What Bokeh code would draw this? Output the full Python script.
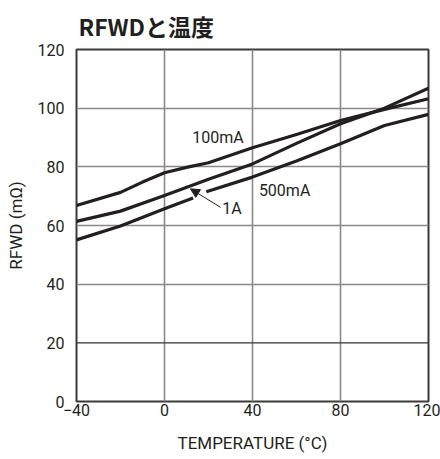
from bokeh.plotting import figure
from bokeh.models import (Range1d, FixedTicker, Label, Arrow, NormalHead, Span)
from bokeh.embed import file_html
from bokeh.resources import INLINE

# ---- data ----
x_ticks = [-40, 0, 40, 80, 120]
x_tick_labels = ["\u221240", "0", "40", "80", "120"]
y_ticks = [0, 20, 40, 60, 80, 100, 120]

temp_100mA = [-40, -20, -10, 0, 10, 20, 40, 60, 80, 100, 120]
r_100mA = [66.8, 71.3, 74.8, 78.0, 79.8, 81.4, 86.5, 91.0, 95.8, 99.6, 103.2]

temp_1A = [-40, -20, 0, 20, 40, 60, 80, 100, 120]
r_1A = [61.4, 64.9, 70.2, 75.8, 81.0, 88.0, 94.7, 100.0, 106.8]

# 500mA curve is broken where the 1A arrow crosses it
temp_500mA = [-40, -20, 0, 13, float("nan"), 19, 40, 60, 80, 100, 120]
r_500mA = [55.1, 59.8, 65.7, 69.4, float("nan"), 71.5, 76.5, 82.0, 87.9, 94.1, 97.9]

curve_labels = ["100mA", "500mA", "1A"]
curve_label_x = [12.6, 42.9, 26.2]
curve_label_y = [90.1, 71.9, 65.7]

arrow_start = (25.5, 66.2)
arrow_end = (11.8, 72.5)

title_text = "RFWDと温度"
ylabel = "RFWD (m\u03a9)"
xlabel = "TEMPERATURE (\u00b0C)"

INK = "#231f20"
FONT = "Roboto"
CJK = "Noto Sans CJK JP"

p = figure(width=440, height=459, output_backend="svg", toolbar_location=None,
           x_range=Range1d(-40, 120), y_range=Range1d(0, 120),
           min_border_left=76, min_border_right=12, min_border_top=49,
           min_border_bottom=58)
p.background_fill_color = "white"
p.border_fill_color = "white"
p.outline_line_color = "#3a3a3a"
p.outline_line_width = 2

# title
p.title.text = title_text
p.title.text_font = CJK
p.title.text_font_size = "23px"
p.title.text_font_style = "bold"
p.title.text_color = INK
p.title.align = "left"
p.title.vertical_align = "top"
p.title.offset = 2
p.title.standoff = 10

# axes
for ax in (p.xaxis[0], p.yaxis[0]):
    ax.axis_line_color = None
    ax.major_tick_line_color = None
    ax.minor_tick_line_color = None
    ax.major_tick_out = 0
    ax.major_tick_in = 0
    ax.minor_tick_out = 0
    ax.major_label_text_font = FONT
    ax.major_label_text_font_size = "16px"
    ax.major_label_text_color = INK
    ax.axis_label_text_font = FONT
    ax.axis_label_text_font_style = "normal"
    ax.axis_label_text_font_size = "17px"
    ax.axis_label_text_color = INK

p.xaxis.ticker = FixedTicker(ticks=x_ticks)
p.xaxis.major_label_overrides = {tk: lb for tk, lb in zip(x_ticks, x_tick_labels)}
p.xaxis.major_label_standoff = 2
p.xaxis.axis_label = xlabel
p.xaxis.axis_label_standoff = 14

p.yaxis.ticker = FixedTicker(ticks=y_ticks)
p.yaxis.major_label_standoff = 12
p.yaxis.axis_label = ylabel
p.yaxis.axis_label_standoff = 9

# grid
p.xgrid.ticker = FixedTicker(ticks=x_ticks)
p.ygrid.ticker = FixedTicker(ticks=[tk for tk in y_ticks if tk != 20])
for g in (p.xgrid[0], p.ygrid[0]):
    g.grid_line_color = "#8a8a8a"
    g.grid_line_width = 1.6
p.add_layout(Span(location=y_ticks[1], dimension="width", line_color="#333333",
                  line_width=1.2, level="underlay"))

# curves
for xs, ys in ((temp_100mA, r_100mA), (temp_1A, r_1A), (temp_500mA, r_500mA)):
    p.line(xs, ys, line_color=INK, line_width=3.2, line_join="round", line_cap="butt")

# curve labels and arrow
for txt, lx, ly in zip(curve_labels, curve_label_x, curve_label_y):
    p.add_layout(Label(x=lx, y=ly, text=txt, text_font=FONT, text_font_size="16px",
                       text_color=INK, text_align="left", text_baseline="middle"))

p.add_layout(Arrow(end=NormalHead(size=9, line_color=INK, fill_color=INK, line_width=1),
                   x_start=arrow_start[0], y_start=arrow_start[1],
                   x_end=arrow_end[0], y_end=arrow_end[1],
                   line_color=INK, line_width=1))

open("out.html", "w").write(file_html(p, INLINE))
